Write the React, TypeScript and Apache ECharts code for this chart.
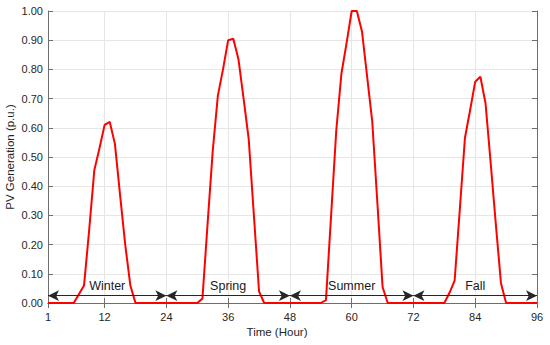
import React, { useEffect, useRef } from "react";
import * as echarts from "echarts";

// Hours 1..96 (x categories)
const hours: string[] = Array.from({ length: 96 }, (_, i) => String(i + 1));

// PV generation (p.u.) per hour
const winter = [0, 0, 0, 0, 0, 0, 0.03, 0.06, 0.25, 0.455, 0.53, 0.61, 0.62, 0.545, 0.37, 0.2, 0.06, 0, 0, 0, 0, 0, 0, 0];
const spring = [0, 0, 0, 0, 0, 0, 0.015, 0.27, 0.52, 0.71, 0.8, 0.9, 0.905, 0.835, 0.7, 0.56, 0.3, 0.04, 0, 0, 0, 0, 0, 0];
const summer = [0, 0, 0, 0, 0, 0, 0.01, 0.3, 0.59, 0.785, 0.89, 1.0, 1.0, 0.93, 0.775, 0.62, 0.34, 0.055, 0, 0, 0, 0, 0, 0];
const fall = [0, 0, 0, 0, 0, 0, 0.035, 0.077, 0.32, 0.565, 0.66, 0.758, 0.775, 0.684, 0.48, 0.27, 0.068, 0, 0, 0, 0, 0, 0, 0];
const pv = [...winter, ...spring, ...summer, ...fall];

// Season arrows
const seasons = ["Winter", "Spring", "Summer", "Fall"];
const seasonBounds = [1, 24, 48, 72, 96];
const arrowY = 0.025;

const xTickHours = [1, 12, 24, 36, 48, 60, 72, 84, 96];

const FONT = "'Liberation Sans', Arial, Helvetica, sans-serif";
const TEXT = "#262626";
const AXIS = "#6e6e6e";
const GRID = "#e6e6e6";

export default function App() {
  const ref = useRef<HTMLDivElement>(null);
  useEffect(() => {
    if (!ref.current) return;
    const chart = echarts.init(ref.current, undefined, { renderer: "svg" });
    const showTick = (index: number) => xTickHours.includes(index + 1);
    chart.setOption({
      animation: false,
      backgroundColor: "#ffffff",
      textStyle: { fontFamily: FONT },
      grid: { left: 48, right: 13, top: 11, bottom: 42, containLabel: false, outerBoundsMode: "none" },
      xAxis: [
        {
          type: "category",
          data: hours,
          boundaryGap: false,
          name: "Time (Hour)",
          nameLocation: "middle",
          nameGap: 23,
          nameMoveOverlap: false,
          nameTextStyle: { color: TEXT, fontSize: 11.5, fontFamily: FONT, padding: [0, 31, 0, 0] },
          axisLine: { show: true, lineStyle: { color: AXIS, width: 1 } },
          axisTick: { show: true, inside: true, length: 5, interval: showTick, lineStyle: { color: AXIS } },
          axisLabel: { show: true, interval: showTick, margin: 8, color: TEXT, fontSize: 11, fontFamily: FONT },
          splitLine: { show: true, interval: showTick, lineStyle: { color: GRID, width: 1 } },
        },
        {
          type: "category",
          data: hours,
          boundaryGap: false,
          position: "top",
          axisLine: { show: true, lineStyle: { color: AXIS, width: 1 } },
          axisTick: { show: true, inside: true, length: 5, interval: showTick, lineStyle: { color: AXIS } },
          axisLabel: { show: false },
          splitLine: { show: false },
        },
      ],
      yAxis: [
        {
          type: "value",
          min: 0,
          max: 1,
          interval: 0.1,
          name: "PV Generation (p.u.)",
          nameLocation: "middle",
          nameGap: 32,
          nameRotate: 90,
          nameMoveOverlap: false,
          nameTextStyle: { color: TEXT, fontSize: 11.5, fontFamily: FONT },
          axisLine: { show: true, lineStyle: { color: AXIS, width: 1 } },
          axisTick: { show: true, inside: true, length: 5, lineStyle: { color: AXIS } },
          axisLabel: { margin: 5, color: TEXT, fontSize: 11, fontFamily: FONT, formatter: (v: number) => v.toFixed(2) },
          splitLine: { show: true, lineStyle: { color: GRID, width: 1 } },
        },
        {
          type: "value",
          min: 0,
          max: 1,
          interval: 0.1,
          position: "right",
          axisLine: { show: true, lineStyle: { color: AXIS, width: 1 } },
          axisTick: { show: true, inside: true, length: 5, lineStyle: { color: AXIS } },
          axisLabel: { show: false },
          splitLine: { show: false },
        },
      ],
      series: [
        {
          type: "line",
          name: "PV",
          data: pv,
          xAxisIndex: 0,
          yAxisIndex: 0,
          symbol: "none",
          clip: false,
          lineStyle: { color: "#ff0000", width: 2 },
          itemStyle: { color: "#ff0000" },
          markLine: {
            silent: true,
            symbol: ["arrow", "arrow"],
            symbolSize: [8, 11],
            lineStyle: { color: "#262626", width: 1, type: "solid" },
            label: {
              show: true,
              position: "insideMiddleTop",
              distance: 3,
              color: "#1a1a1a",
              fontSize: 12.5,
              fontFamily: FONT,
              formatter: (p: any) => p.name,
            },
            data: seasons.map((s, i) => [
              { name: s, coord: [String(seasonBounds[i]), arrowY] },
              { coord: [String(seasonBounds[i + 1]), arrowY] },
            ]),
          },
        },
      ],
    });
    return () => chart.dispose();
  }, []);
  return (
    <div
      ref={ref}
      style={{ position: "absolute", left: 0, top: 0, width: 550, height: 345 }}
    />
  );
}
